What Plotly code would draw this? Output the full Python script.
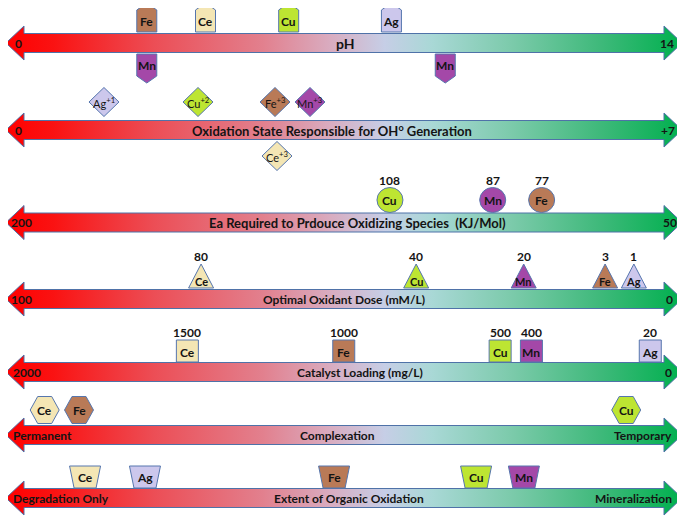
import plotly.graph_objects as go

# ---------------- data ----------------
ph_up_metals = ["Fe", "Ce", "Cu", "Ag"]
ph_up_values = [3.0, 4.2, 5.9, 8.0]
ph_down_metals = ["Mn", "Mn"]
ph_down_values = [3.0, 9.1]

ox_up_metals = ["Ag", "Cu", "Fe", "Mn"]
ox_up_states = [1, 2, 3, 3]
ox_down_metals = ["Ce"]
ox_down_states = [3]

ea_metals = ["Cu", "Mn", "Fe"]
ea_values = [108, 87, 77]

dose_metals = ["Ce", "Cu", "Mn", "Fe", "Ag"]
dose_values = [80, 40, 20, 3, 1]

load_metals = ["Ce", "Fe", "Cu", "Mn", "Ag"]
load_values = [1500, 1000, 500, 400, 20]

complex_metals = ["Ce", "Fe", "Cu"]
complex_scores = [5.6, 10.7, 92.0]      # 0 = permanent ... 100 = temporary

extent_metals = ["Ce", "Ag", "Fe", "Cu", "Mn"]
extent_scores = [11.6, 20.5, 48.6, 69.7, 76.8]  # 0 = degradation only ... 100 = mineralization

row_titles = ["pH",
              "Oxidation State Responsible for OH<sup>o</sup> Generation",
              "Ea Required to Prdouce Oxidizing Species  (KJ/Mol)",
              "Optimal Oxidant Dose (mM/L)",
              "Catalyst Loading (mg/L)",
              "Complexation",
              "Extent of Organic Oxidation"]
left_labels = ["0", "0", "200", "100", "2000", "Permanent", "Degradation Only"]
right_labels = ["14", "+7", "50", "0", "0", "Temporary", "Mineralization"]

# ---------------- styles / layout ----------------
PAGE_W, PAGE_H, OFF = 685, 518, 8          # page body has an 8px margin
W, H = PAGE_W - OFF, PAGE_H - OFF
row_y = [43, 130, 222.5, 299, 372, 435, 498]
title_x = [345, 332, 357, 344, 360, 337, 349]
# value ranges spanning the full page width for each row's own axis
page_ranges = [[0, 14], [-0.106, 7.18], [187.7, 47.7], [117.4, -10.0],
               [2099, -91], [-1.04, 100.74], [-1.04, 100.74]]
metal_colors = {"Fe": "#B97A57", "Ce": "#F4E6B4", "Cu": "#BDE532",
                "Ag": "#CCC7EC", "Mn": "#A448A8"}
edge = "#5676AE"
txt = "#141414"
FONT = "Lato"
grad = [[0, "#FF0000"], [0.07, "#FA1212"], [0.22, "#EC4E56"], [0.38, "#E2808E"],
        [0.48, "#D9ACC0"], [0.56, "#C6CEE6"], [0.63, "#A9D8D6"], [0.75, "#7BCAAA"],
        [0.88, "#3EB97A"], [1, "#00B04E"]]
dodge_ox = {"Fe": -17, "Mn": 18, "Ce": -15}
dodge_dose = {"Fe": -10, "Ag": 8}

fig = go.Figure()
shapes, annots = [], []

# arrows
for c in row_y:
    xl, xr, bl, br, bh, hh = 6, 682, 24, 664, 9.5, 17
    xs = [xl, bl, bl, br, br, xr, br, br, bl, bl, xl]
    ys = [c, c - hh, c - bh, c - bh, c - hh, c, c + hh, c + bh, c + bh, c + hh, c]
    fig.add_trace(go.Scatter(x=xs, y=ys, mode="lines", fill="toself",
                             fillgradient=dict(type="horizontal", colorscale=grad),
                             line=dict(color="#4F72A8", width=1), hoverinfo="skip",
                             showlegend=False, xaxis="x", yaxis="y"))

def label(xref, x, y, text, size=11, xshift=0, yshift=0, xanchor="center"):
    annots.append(dict(xref=xref, yref="y", x=x, y=y, text=text, showarrow=False,
                       xshift=xshift, yshift=yshift, xanchor=xanchor, yanchor="middle",
                       font=dict(family=FONT, size=size, color=txt)))

def add_path(xref, x, yc, path, metal):
    shapes.append(dict(type="path", xref=xref, yref="y", xsizemode="pixel",
                       ysizemode="pixel", xanchor=x, yanchor=yc, path=path,
                       fillcolor=metal_colors[metal], line=dict(color=edge, width=1),
                       layer="above"))

def pts(lst, dx=0):
    return "M" + " L".join(f"{px + dx},{py}" for px, py in lst) + " Z"

xr_ = ["x2", "x3", "x4", "x5", "x6", "x7", "x8"]

# row 1: pH
c = row_y[0]
for m, v in zip(ph_up_metals, ph_up_values):
    add_path(xr_[0], v, c, pts([(-10, 11), (-10, 33), (0, 40), (10, 33), (10, 11)]), m)
    label(xr_[0], v, c, f"<b>{m}</b>", 12, yshift=22)
for m, v in zip(ph_down_metals, ph_down_values):
    add_path(xr_[0], v, c, pts([(-10, -11), (10, -11), (10, -33), (0, -40), (-10, -33)]), m)
    label(xr_[0], v, c, f"<b>{m}</b>", 12, yshift=-22)

# row 2: oxidation states
c = row_y[1]
for m, v in zip(ox_up_metals, ox_up_states):
    d = dodge_ox.get(m, 0)
    add_path(xr_[1], v, c, pts([(-15, 28), (0, 42.5), (15, 28), (0, 13.5)], d), m)
    label(xr_[1], v, c, f"{m}<sup>+{v}</sup>", 11, xshift=d, yshift=28)
for m, v in zip(ox_down_metals, ox_down_states):
    d = dodge_ox.get(m, 0)
    add_path(xr_[1], v, c, pts([(-15, -26), (0, -11.5), (15, -26), (0, -40.5)], d), m)
    label(xr_[1], v, c, f"{m}<sup>+{v}</sup>", 11, xshift=d, yshift=-26)

# row 3: activation energy
c = row_y[2]
for m, v in zip(ea_metals, ea_values):
    shapes.append(dict(type="circle", xref=xr_[2], yref="y", xsizemode="pixel",
                       ysizemode="pixel", xanchor=v, yanchor=c, x0=-13, x1=13,
                       y0=10, y1=35, fillcolor=metal_colors[m],
                       line=dict(color=edge, width=1), layer="above"))
    label(xr_[2], v, c, f"<b>{m}</b>", 12, yshift=22.5)
    label(xr_[2], v, c, f"<b>{v}</b>", 12, yshift=42)

# row 4: oxidant dose
c = row_y[3]
for m, v in zip(dose_metals, dose_values):
    d = dodge_dose.get(m, 0)
    add_path(xr_[3], v, c, pts([(-12.5, 11), (0, 35), (12.5, 11)], d), m)
    label(xr_[3], v, c, f"<b>{m}</b>", 11, xshift=d, yshift=18)
    label(xr_[3], v, c, f"<b>{v}</b>", 12, xshift=d, yshift=43)

# row 5: catalyst loading
c = row_y[4]
for m, v in zip(load_metals, load_values):
    add_path(xr_[4], v, c, pts([(-11, 10), (-11, 32), (11, 32), (11, 10)]), m)
    label(xr_[4], v, c, f"<b>{m}</b>", 12, yshift=20)
    label(xr_[4], v, c, f"<b>{v}</b>", 12, yshift=39.5)

# row 6: complexation
c = row_y[5]
for m, v in zip(complex_metals, complex_scores):
    add_path(xr_[5], v, c, pts([(-14.5, 25), (-7, 38.5), (7, 38.5), (14.5, 25),
                                (7, 11.5), (-7, 11.5)]), m)
    label(xr_[5], v, c, f"<b>{m}</b>", 12, yshift=25)

# row 7: extent of oxidation
c = row_y[6]
for m, v in zip(extent_metals, extent_scores):
    add_path(xr_[6], v, c, pts([(-15.5, 32), (15.5, 32), (11, 10), (-11, 10)]), m)
    label(xr_[6], v, c, f"<b>{m}</b>", 12, yshift=21)

# row texts
title_sizes = [14, 13, 13, 12, 12, 12, 12]
for i, c in enumerate(row_y):
    label("x", title_x[i], c, f"<b>{row_titles[i]}</b>", title_sizes[i])
    if i < 5:
        lx = [18, 18, 21, 21, 27][i]
        rx = [667, 668, 670, 669, 668][i]
        label("x", lx, c, f"<b>{left_labels[i]}</b>", 12)
        label("x", rx, c, f"<b>{right_labels[i]}</b>", 12)
    else:
        label("x", 11, c, f"<b>{left_labels[i]}</b>", 12, xanchor="left")
        label("x", 674, c, f"<b>{right_labels[i]}</b>", 12, xanchor="right")

def shifted(r):
    r0, r1 = r
    f = lambda p: r0 + (r1 - r0) * p / PAGE_W
    return [f(OFF), f(PAGE_W)]

hidden = dict(visible=False, showgrid=False, zeroline=False, fixedrange=True)
layout = dict(width=W, height=H, margin=dict(l=0, r=0, t=0, b=0),
              paper_bgcolor="white", plot_bgcolor="white", showlegend=False,
              xaxis=dict(range=[OFF, PAGE_W], domain=[0, 1], **hidden),
              yaxis=dict(range=[PAGE_H, OFF], domain=[0, 1], **hidden),
              shapes=shapes, annotations=annots)
for i, ref in enumerate(xr_):
    layout["xaxis" + ref[1:]] = dict(range=shifted(page_ranges[i]), overlaying="x",
                                     anchor="y", domain=[0, 1], **hidden)
fig.update_layout(**layout)
fig.write_html("out.html")
